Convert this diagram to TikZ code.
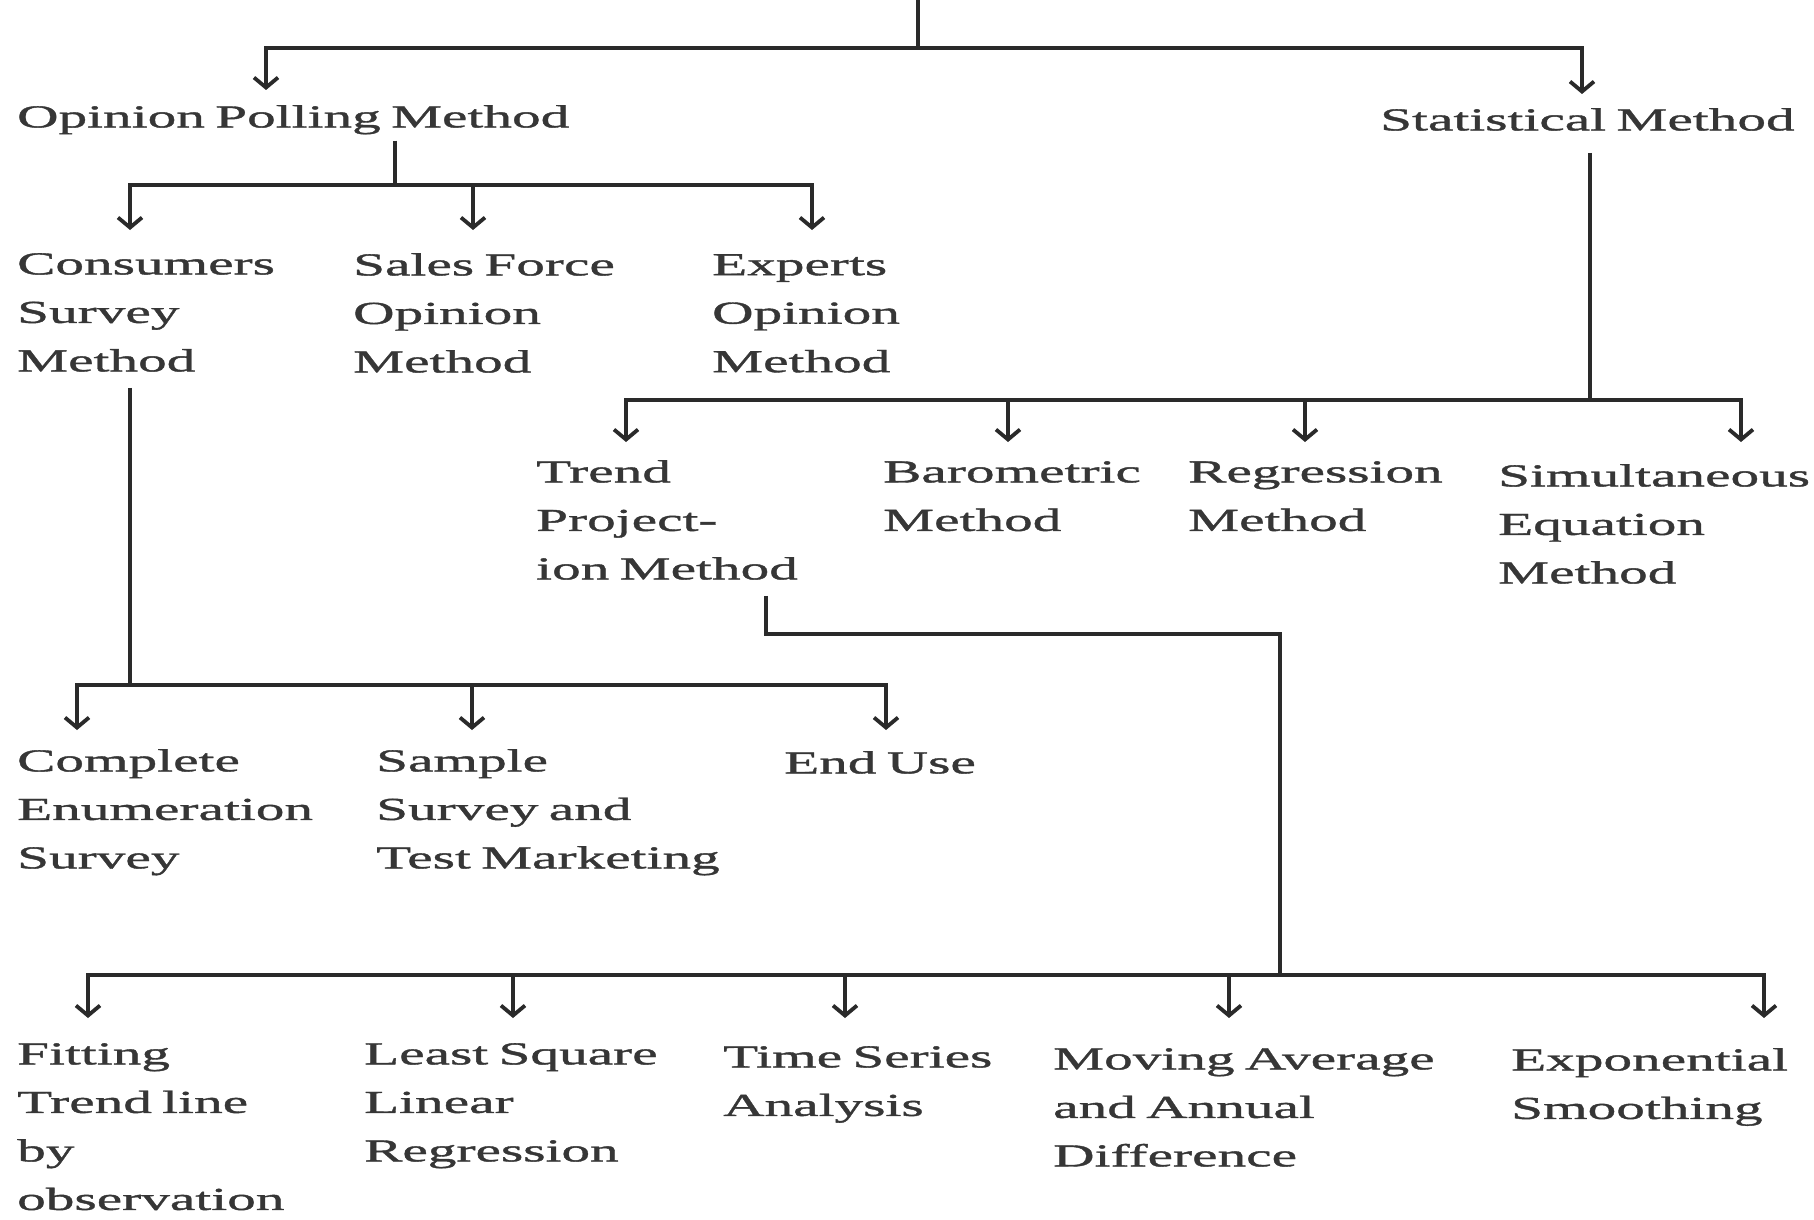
\documentclass[tikz,border=0pt]{standalone}
\usepackage{fontspec}
\setmainfont{Liberation Serif}[FakeStretch=1.79, FakeBold=1.2, WordSpace=0.72]
\usetikzlibrary{arrows.meta}
\definecolor{ink}{HTML}{2A2A2A}
\definecolor{txt}{HTML}{363636}
\begin{document}
\begin{tikzpicture}[x=1pt,y=-1pt,
  lab/.style={anchor=north west, inner sep=0pt, align=left, text=txt,
              font=\fontsize{32}{48.5}\selectfont},
  conn/.style={draw=ink, line width=3.8pt},
  arr/.style={conn, -{Straight Barb[length=10pt,width=24pt]}}]
\useasboundingbox[fill=white] (0,0) rectangle (1814,1220);

% ---------- nodes ----------
\node[lab] (opm) at (17,105)  {Opinion Polling Method};
\node[lab] (sm)  at (1380,108) {Statistical Method};

\node[lab] (csm) at (17,253)  {Consumers\\Survey\\Method};
\node[lab] (sfo) at (353,253) {Sales Force\\Opinion\\Method};
\node[lab] (eom) at (712,254) {Experts\\Opinion\\Method};

\node[lab] (tpm) at (536,460)  {Trend\\Project-\\ion Method};
\node[lab] (bm)  at (883,461)  {Barometric\\Method};
\node[lab] (rm)  at (1188,461) {Regression\\Method};
\node[lab] (sem) at (1498,464) {Simultaneous\\Equation\\Method};

\node[lab] (ces) at (17,749)  {Complete\\Enumeration\\Survey};
\node[lab] (sst) at (376,749) {Sample\\Survey and\\Test Marketing};
\node[lab] (eu)  at (784,751) {End Use};

\node[lab] (ftl) at (17,1043)   {Fitting\\Trend line\\by\\observation};
\node[lab] (lsl) at (364,1043)  {Least Square\\Linear\\Regression};
\node[lab] (tsa) at (723,1046)  {Time Series\\Analysis};
\node[lab] (maa) at (1053,1048) {Moving Average\\and Annual\\Difference};
\node[lab] (exs) at (1511,1048) {Exponential\\Smoothing};

% ---------- junctions and arrow ends ----------
\coordinate (top) at (918,0);
\coordinate (j0) at (918,48);
\coordinate (opm-in) at (266,90);
\coordinate (sm-in)  at (1582,94);

\coordinate (j1) at (395,185);
\coordinate (csm-in) at (130,230);
\coordinate (sfo-in) at (473,230);
\coordinate (eom-in) at (812,230);

\coordinate (j2) at (1590,400);
\coordinate (tpm-in) at (626,442);
\coordinate (bm-in)  at (1008,442);
\coordinate (rm-in)  at (1305,442);
\coordinate (sem-in) at (1741,442);

\coordinate (j3) at (130,685);
\coordinate (ces-in) at (77,730);
\coordinate (sst-in) at (472,730);
\coordinate (eu-in)  at (886,730);

\coordinate (k4) at (766,634);
\coordinate (j4) at (1280,975);
\coordinate (ftl-in) at (88,1018);
\coordinate (lsl-in) at (513,1018);
\coordinate (tsa-in) at (845,1018);
\coordinate (maa-in) at (1229,1018);
\coordinate (exs-in) at (1764,1018);

% ---------- connectors ----------
\draw[conn] (top) -- (j0);
\draw[arr] (j0) -| (opm-in);
\draw[arr] (j0) -| (sm-in);

\draw[conn, shorten <=6pt] (opm.south -| j1) -- (j1);
\draw[arr] (j1) -| (csm-in);
\draw[arr] (j1) -| (sfo-in);
\draw[arr] (j1) -| (eom-in);

\draw[conn, shorten <=22pt] (sm.south -| j2) -- (j2);
\draw[arr] (j2) -| (tpm-in);
\draw[arr] (j2) -| (bm-in);
\draw[arr] (j2) -| (rm-in);
\draw[arr] (j2) -| (sem-in);

\draw[conn, shorten <=16pt] (csm.south -| j3) -- (j3);
\draw[arr] (j3) -| (ces-in);
\draw[arr] (j3) -| (sst-in);
\draw[arr] (j3) -| (eu-in);

\draw[conn, shorten <=16pt] (tpm.south -| k4) -- (k4) -| (j4);
\draw[arr] (j4) -| (ftl-in);
\draw[arr] (j4) -| (lsl-in);
\draw[arr] (j4) -| (tsa-in);
\draw[arr] (j4) -| (maa-in);
\draw[arr] (j4) -| (exs-in);
\end{tikzpicture}
\end{document}
